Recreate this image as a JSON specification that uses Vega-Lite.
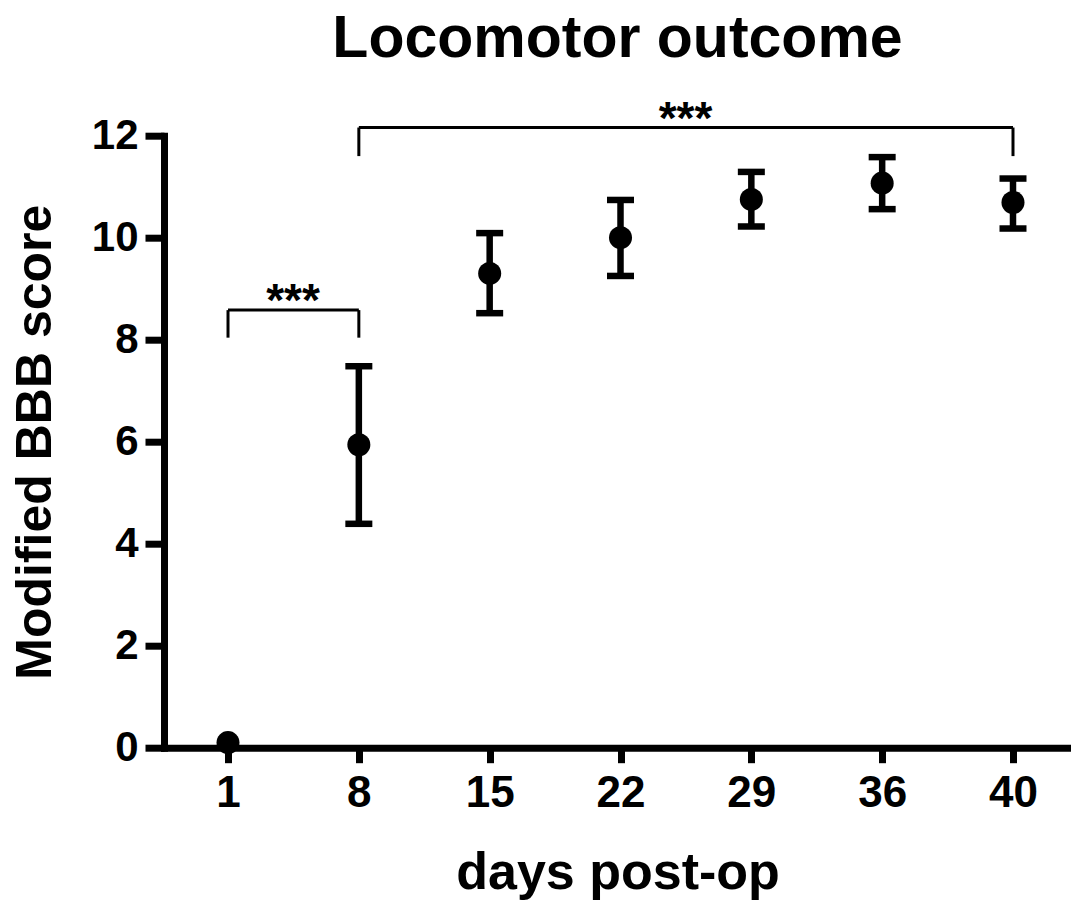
{
  "$schema": "https://vega.github.io/schema/vega-lite/v6.json",
  "width": 907,
  "height": 612,
  "autosize": {"type": "none"},
  "padding": {"left": 164, "top": 135.7, "right": 0, "bottom": 152.3},
  "background": "white",
  "title": {
    "text": "Locomotor outcome",
    "font": "Liberation Sans",
    "fontSize": 59,
    "fontWeight": "bold",
    "color": "black",
    "anchor": "middle",
    "offset": 28
  },
  "config": {
    "view": {"stroke": null},
    "axis": {
      "grid": false,
      "domainColor": "black",
      "tickColor": "black",
      "labelColor": "black",
      "titleColor": "black",
      "labelFont": "Liberation Sans",
      "titleFont": "Liberation Sans",
      "labelFontWeight": "bold",
      "titleFontWeight": "bold",
      "domainWidth": 7,
      "tickWidth": 7,
      "domainCap": "square"
    }
  },
  "datasets": {
    "summary": [
      {"day": "1", "mean": 0.1, "lo": null, "hi": null},
      {"day": "8", "mean": 5.94, "lo": 4.39, "hi": 7.48},
      {"day": "15", "mean": 9.3, "lo": 8.52, "hi": 10.09},
      {"day": "22", "mean": 10.0, "lo": 9.25, "hi": 10.74},
      {"day": "29", "mean": 10.75, "lo": 10.22, "hi": 11.29},
      {"day": "36", "mean": 11.07, "lo": 10.56, "hi": 11.58},
      {"day": "40", "mean": 10.69, "lo": 10.18, "hi": 11.16}
    ],
    "brackets": [
      {"from": "1", "to": "8", "top": 8.58, "foot": 8.04, "stars": "***", "label_at": "1"},
      {"from": "8", "to": "40", "top": 12.16, "foot": 11.6, "stars": "***", "label_at": "22"}
    ]
  },
  "layer": [
    {
      "data": {"name": "summary"},
      "mark": {"type": "rule", "color": "black", "strokeWidth": 6.5},
      "encoding": {
        "x": {
          "field": "day",
          "type": "ordinal",
          "sort": null,
          "scale": {"type": "point", "domain": ["1", "8", "15", "22", "29", "36", "40"], "padding": 0.4663, "align": 0.5246},
          "axis": {
            "title": "days post-op",
            "titleFontSize": 52,
            "labelFontSize": 44,
            "labelAngle": 0,
            "tickSize": 15,
            "labelPadding": 9,
            "titlePadding": 32
          }
        },
        "y": {
          "field": "lo",
          "type": "quantitative",
          "scale": {"domain": [0, 12], "nice": false, "zero": true},
          "axis": {
            "title": "Modified BBB score",
            "titleFontSize": 50,
            "labelFontSize": 42,
            "values": [0, 2, 4, 6, 8, 10, 12],
            "tickSize": 19,
            "labelPadding": 7,
            "titlePadding": 31
          }
        },
        "y2": {"field": "hi"}
      }
    },
    {
      "data": {"name": "summary"},
      "mark": {"type": "tick", "color": "black", "size": 27, "thickness": 6.5, "opacity": 1},
      "encoding": {
        "x": {"field": "day", "type": "ordinal", "sort": null},
        "y": {"field": "lo", "type": "quantitative"}
      }
    },
    {
      "data": {"name": "summary"},
      "mark": {"type": "tick", "color": "black", "size": 27, "thickness": 6.5, "opacity": 1},
      "encoding": {
        "x": {"field": "day", "type": "ordinal", "sort": null},
        "y": {"field": "hi", "type": "quantitative"}
      }
    },
    {
      "data": {"name": "summary"},
      "mark": {"type": "circle", "color": "black", "size": 530, "opacity": 1},
      "encoding": {
        "x": {"field": "day", "type": "ordinal", "sort": null},
        "y": {"field": "mean", "type": "quantitative"}
      }
    },
    {
      "data": {"name": "brackets"},
      "mark": {"type": "rule", "color": "black", "strokeWidth": 3},
      "encoding": {
        "x": {"field": "from", "type": "ordinal"},
        "x2": {"field": "to"},
        "y": {"field": "top", "type": "quantitative"}
      }
    },
    {
      "data": {"name": "brackets"},
      "mark": {"type": "rule", "color": "black", "strokeWidth": 3},
      "encoding": {
        "x": {"field": "from", "type": "ordinal"},
        "y": {"field": "foot", "type": "quantitative"},
        "y2": {"field": "top"}
      }
    },
    {
      "data": {"name": "brackets"},
      "mark": {"type": "rule", "color": "black", "strokeWidth": 3},
      "encoding": {
        "x": {"field": "to", "type": "ordinal"},
        "y": {"field": "foot", "type": "quantitative"},
        "y2": {"field": "top"}
      }
    },
    {
      "data": {"name": "brackets"},
      "mark": {"type": "text", "color": "black", "font": "Liberation Sans", "fontWeight": "bold", "fontSize": 46, "baseline": "alphabetic", "align": "center", "dx": 65, "dy": 6},
      "encoding": {
        "x": {"field": "label_at", "type": "ordinal"},
        "y": {"field": "top", "type": "quantitative"},
        "text": {"field": "stars"}
      }
    }
  ]
}
